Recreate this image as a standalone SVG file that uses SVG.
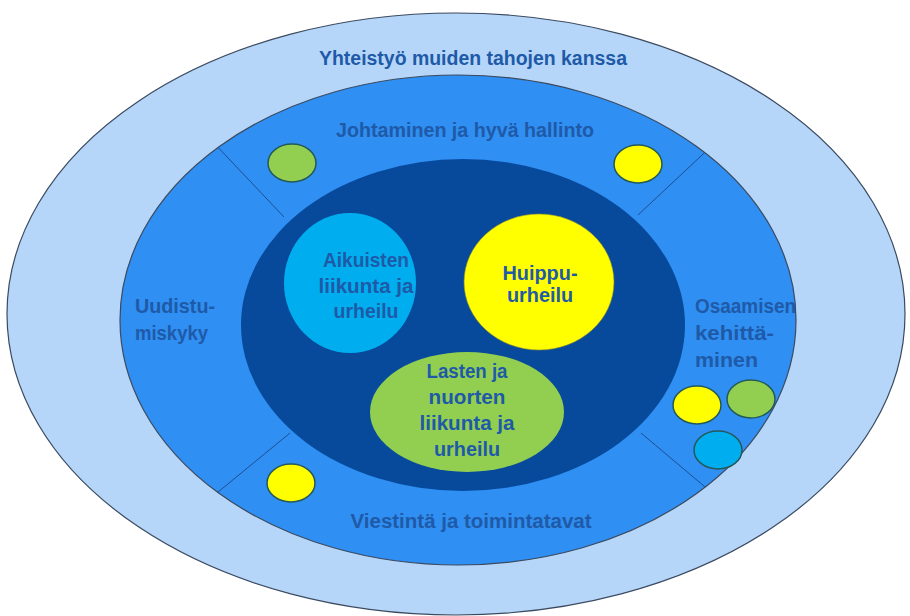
<svg xmlns="http://www.w3.org/2000/svg" width="910" height="616" viewBox="0 0 910 616">
  <style>
    .ring { stroke: #3b4a60; stroke-width: 1.2; }
    .dot { stroke: #24595a; stroke-width: 1.5; }
    .lbl { font-family: "Liberation Sans", Arial, sans-serif; font-weight: bold; font-size: 20px; fill: #1f5aa8; }
    .divider { stroke: #1d4f93; stroke-width: 1; fill: none; }
  </style>
  <defs>
    <clipPath id="middle-clip">
      <ellipse cx="458" cy="320" rx="338" ry="245"/>
    </clipPath>
  </defs>

  <!-- outer ring: cooperation -->
  <g id="ring-yhteistyo">
    <ellipse class="ring" cx="456" cy="314" rx="449" ry="301" fill="#b5d6f8"/>
    <text class="lbl" x="473" y="65" text-anchor="middle" textLength="308" lengthAdjust="spacingAndGlyphs">Yhteistyö muiden tahojen kanssa</text>
  </g>

  <!-- middle ring -->
  <g id="ring-middle">
    <ellipse class="ring" cx="458" cy="320" rx="338" ry="245" fill="#2f8ff2"/>
  </g>

  <!-- sector dividers of the middle ring -->
  <g id="connectors" clip-path="url(#middle-clip)">
    <line class="divider" x1="212" y1="141" x2="284" y2="217"/>
    <line class="divider" x1="717" y1="141" x2="638" y2="215"/>
    <line class="divider" x1="290" y1="433" x2="212" y2="497"/>
    <line class="divider" x1="641" y1="433" x2="717" y2="497"/>
  </g>

  <g id="sector-johtaminen">
    <text class="lbl" x="465" y="137" text-anchor="middle" textLength="258" lengthAdjust="spacingAndGlyphs">Johtaminen ja hyvä hallinto</text>
  </g>
  <g id="sector-uudistumiskyky">
    <text class="lbl" x="135" y="313" textLength="80" lengthAdjust="spacingAndGlyphs">Uudistu-</text>
    <text class="lbl" x="135" y="340" textLength="73" lengthAdjust="spacingAndGlyphs">miskyky</text>
  </g>
  <g id="sector-osaaminen">
    <text class="lbl" x="695" y="313" textLength="101" lengthAdjust="spacingAndGlyphs">Osaamisen</text>
    <text class="lbl" x="695" y="340" textLength="79" lengthAdjust="spacingAndGlyphs">kehittä-</text>
    <text class="lbl" x="695" y="367" textLength="63" lengthAdjust="spacingAndGlyphs">minen</text>
  </g>
  <g id="sector-viestinta">
    <text class="lbl" x="471" y="528" text-anchor="middle" textLength="241" lengthAdjust="spacingAndGlyphs">Viestintä ja toimintatavat</text>
  </g>

  <!-- inner core -->
  <g id="core">
    <ellipse cx="463" cy="325" rx="222" ry="166" fill="#074a9c"/>
  </g>

  <g id="node-aikuisten">
    <ellipse cx="350" cy="283" rx="66" ry="70" fill="#00aeef"/>
    <text class="lbl" x="366" y="267" text-anchor="middle" textLength="86" lengthAdjust="spacingAndGlyphs" fill="#2357a3">Aikuisten</text>
    <text class="lbl" x="366" y="293" text-anchor="middle" textLength="95" lengthAdjust="spacingAndGlyphs" fill="#2357a3">liikunta ja</text>
    <text class="lbl" x="366" y="318" text-anchor="middle" textLength="65" lengthAdjust="spacingAndGlyphs" fill="#2357a3">urheilu</text>
  </g>

  <g id="node-huippu">
    <ellipse cx="539" cy="282" rx="75" ry="68" fill="#ffff00" stroke="#8a8a30" stroke-width="0.6"/>
    <text class="lbl" x="540" y="280" text-anchor="middle" textLength="75" lengthAdjust="spacingAndGlyphs" fill="#1d3a6e">Huippu-</text>
    <text class="lbl" x="540" y="302" text-anchor="middle" textLength="66" lengthAdjust="spacingAndGlyphs" fill="#1d3a6e">urheilu</text>
  </g>

  <g id="node-lasten">
    <ellipse cx="467" cy="412" rx="97" ry="60" fill="#92cf50"/>
    <text class="lbl" x="467" y="378" text-anchor="middle" textLength="81" lengthAdjust="spacingAndGlyphs" fill="#1f4d8e">Lasten ja</text>
    <text class="lbl" x="467" y="404" text-anchor="middle" textLength="77" lengthAdjust="spacingAndGlyphs" fill="#1f4d8e">nuorten</text>
    <text class="lbl" x="467" y="430" text-anchor="middle" textLength="95" lengthAdjust="spacingAndGlyphs" fill="#1f4d8e">liikunta ja</text>
    <text class="lbl" x="467" y="456" text-anchor="middle" textLength="66" lengthAdjust="spacingAndGlyphs" fill="#1f4d8e">urheilu</text>
  </g>

  <!-- small markers -->
  <g id="dot-top-left"><ellipse class="dot" cx="292" cy="163" rx="24" ry="19" fill="#92cf50"/></g>
  <g id="dot-top-right"><ellipse class="dot" cx="638" cy="164" rx="24" ry="19" fill="#ffff00"/></g>
  <g id="dot-bottom-left"><ellipse class="dot" cx="291" cy="483" rx="24" ry="19" fill="#ffff00"/></g>
  <g id="dot-right-yellow"><ellipse class="dot" cx="697" cy="405" rx="24" ry="19" fill="#ffff00"/></g>
  <g id="dot-right-green"><ellipse class="dot" cx="751" cy="399" rx="24" ry="19" fill="#92cf50"/></g>
  <g id="dot-right-blue"><ellipse class="dot" cx="718" cy="450" rx="24" ry="19" fill="#00aeef"/></g>
</svg>
